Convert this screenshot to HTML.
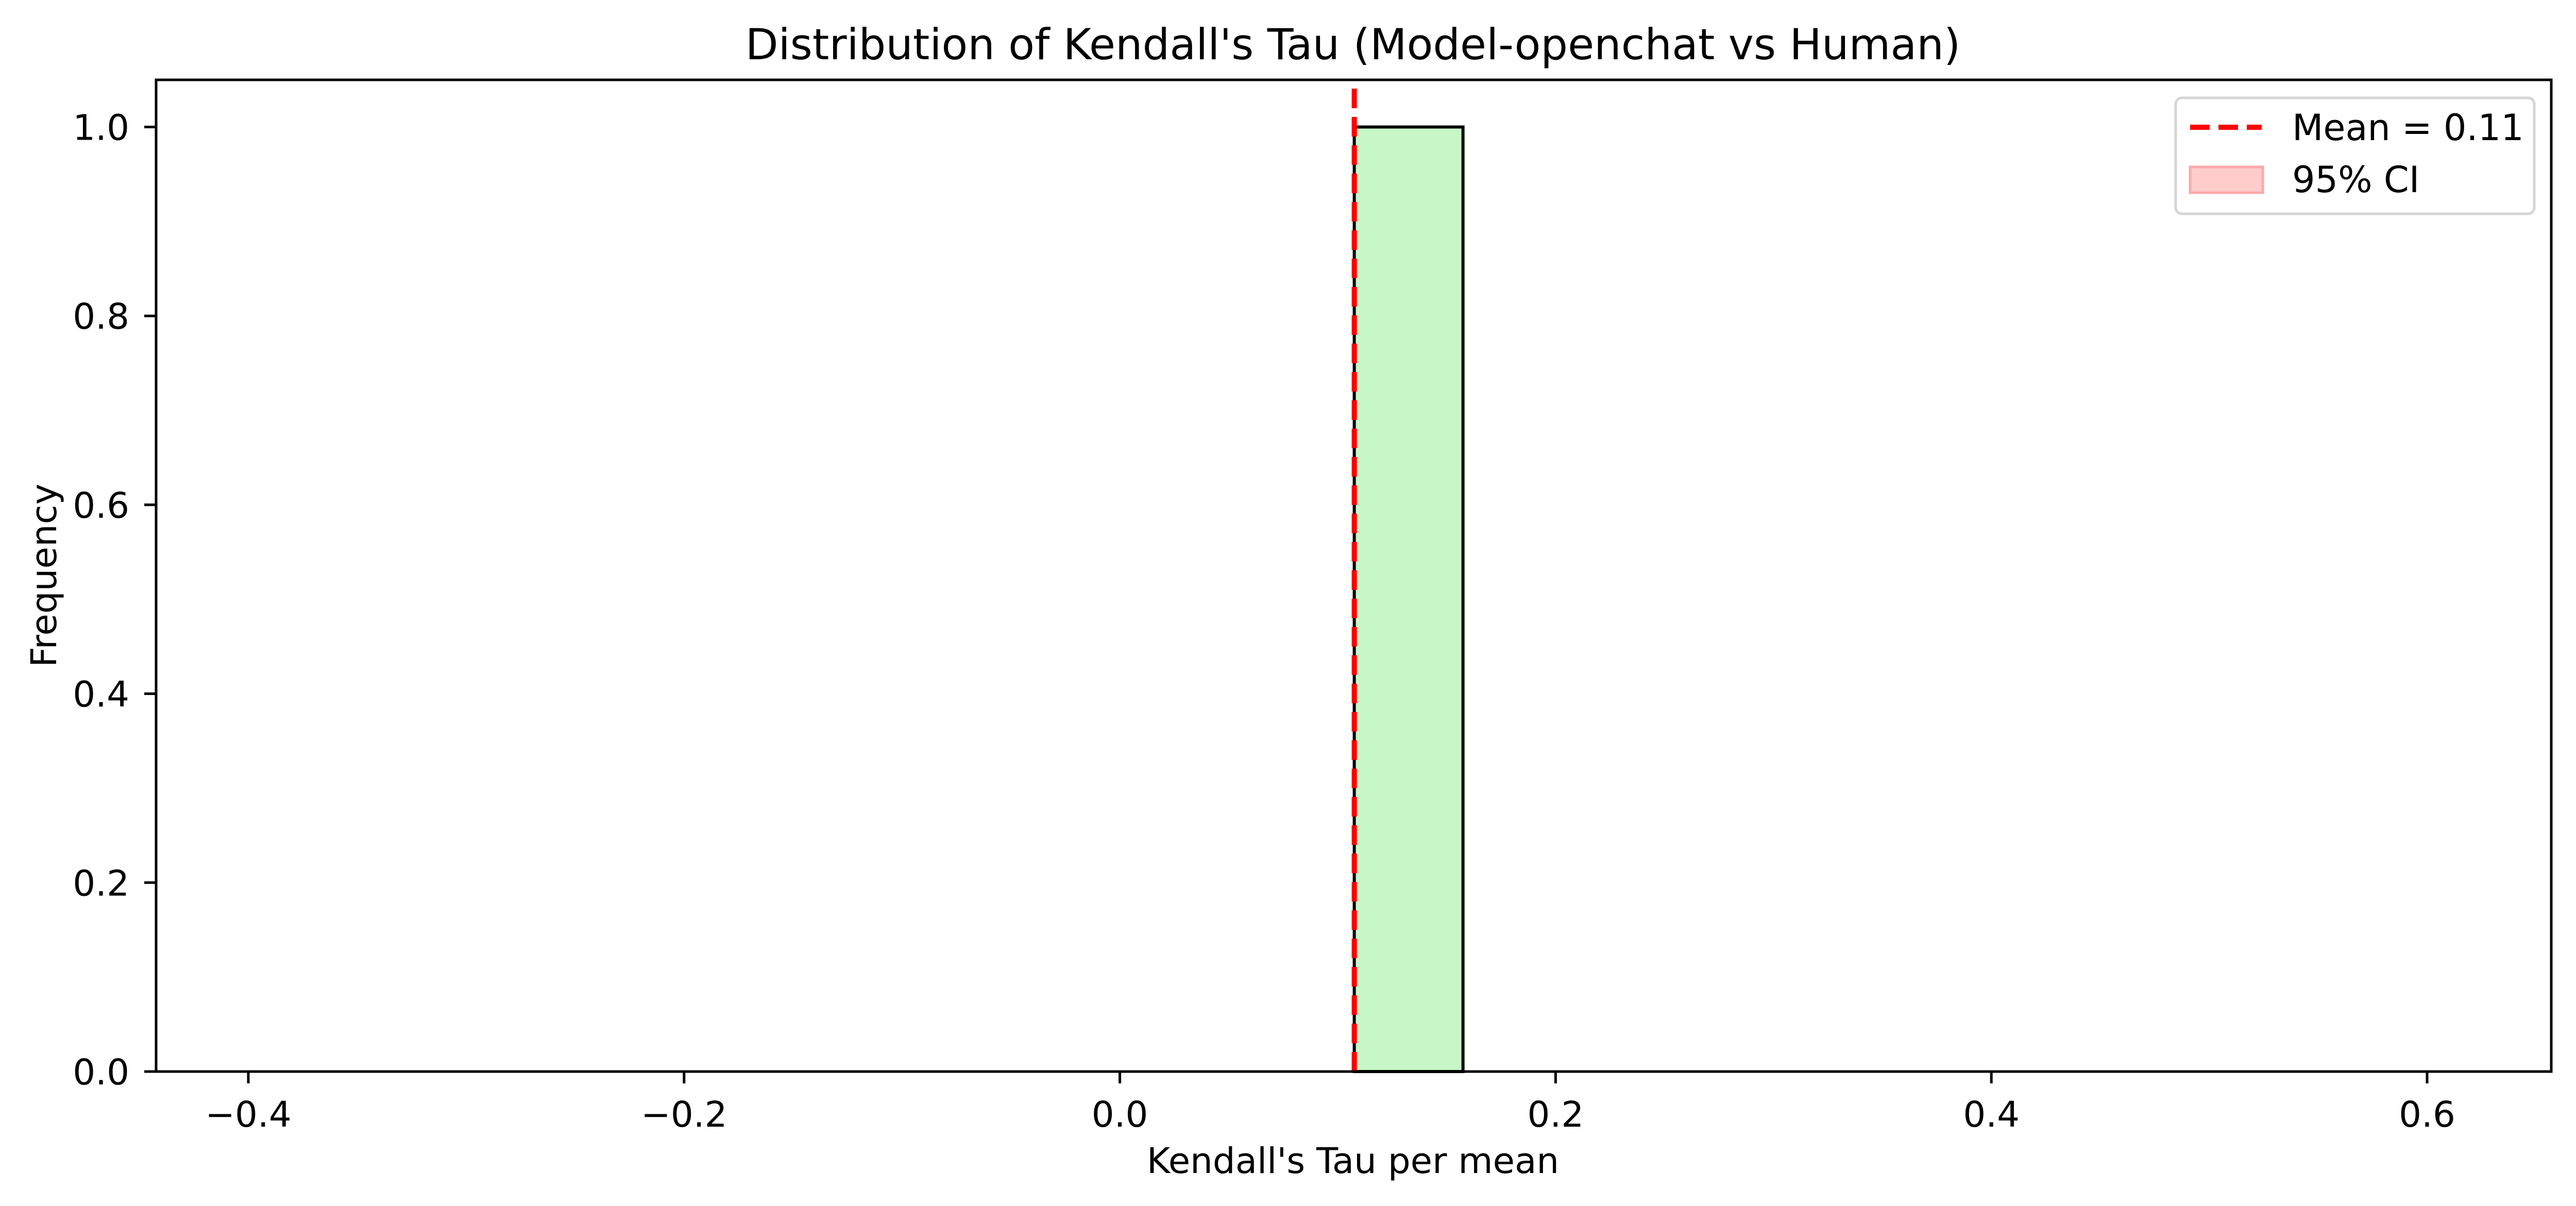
<!DOCTYPE html>
<html><head><meta charset="utf-8"><style>
html,body{margin:0;padding:0;background:#fff;}
svg{display:block;font-family:"DejaVu Sans","Liberation Sans",sans-serif;}
</style></head><body>
<svg id="chart" width="5003" height="2341" viewBox="0 0 5003 2341" xmlns="http://www.w3.org/2000/svg">
<rect width="5003" height="2341" fill="#fff"/>
<text x="2626" y="115" font-size="83" text-anchor="middle">Distribution of Kendall's Tau (Model-openchat vs Human)</text>
<g id="plot"></g>
<text x="2626" y="2277" font-size="69" text-anchor="middle">Kendall's Tau per mean</text>
<text transform="translate(86,1117) rotate(-90)" font-size="69" text-anchor="middle" dominant-baseline="central">Frequency</text>
<g>
<rect x="4223" y="190" width="696" height="225" rx="12" fill="#fff" fill-opacity="0.8" stroke="#d5d5d5" stroke-width="5"/>
<line x1="4251" y1="247" x2="4390" y2="247" stroke="#ff0000" stroke-width="10" stroke-dasharray="38 17"/>
<text x="4449" y="272" font-size="70">Mean = 0.11</text>
<rect x="4251" y="324" width="141" height="50" fill="#ffcccc" stroke="#ffa8a8" stroke-width="5"/>
<text x="4449" y="373" font-size="70">95% CI</text>
</g>
</svg>
<script>
const binStarts = [0.1076];
const binEnds = [0.1575];
const binCounts = [1];
const meanValue = [0.1076];
const xTicks = [-0.4, -0.2, 0.0, 0.2, 0.4, 0.6];
const xTickLabels = ["\u22120.4", "\u22120.2", "0.0", "0.2", "0.4", "0.6"];
const yTicks = [0, 0.2, 0.4, 0.6, 0.8, 1.0];
const yTickLabels = ["0.0", "0.2", "0.4", "0.6", "0.8", "1.0"];

const NS = "http://www.w3.org/2000/svg";
const L = 303, R = 4952, T = 155, B = 2080;
function xs(v){ return 482 + (v + 0.4) * 4229; }
function ys(v){ return B - v * 1833.5; }
const g = document.getElementById('plot');
function mk(tag, attrs){ const e = document.createElementNS(NS, tag); for (const k in attrs) e.setAttribute(k, attrs[k]); g.appendChild(e); return e; }

for (let i = 0; i < binCounts.length; i++) {
  const r = mk('rect', {x: xs(binStarts[i]), y: ys(binCounts[i]), width: xs(binEnds[i]) - xs(binStarts[i]), height: B - ys(binCounts[i]), fill: '#c7f7c7', stroke: '#000', 'stroke-width': 6});
  
  
}
for (let i = 0; i < meanValue.length; i++) {
  const ml = mk('line', {x1: xs(meanValue[i]), x2: xs(meanValue[i]), y1: B, y2: T, stroke: '#ff0000', 'stroke-width': 10, 'stroke-dasharray': '38 17'});
  
  
}
const frame = mk('rect', {x: L, y: T, width: R - L, height: B - T, fill: 'none', stroke: '#000', 'stroke-width': 5});



for (let i = 0; i < xTicks.length; i++) {
  const x = xs(xTicks[i]);
  const t = mk('line', {x1: x, x2: x, y1: B, y2: B + 23, stroke: '#000', 'stroke-width': 5});
  
  
  const lb = mk('text', {x: x, y: 2187, 'font-size': 69, 'text-anchor': 'middle'});
  lb.textContent = xTickLabels[i];
  
  
}
for (let i = 0; i < yTicks.length; i++) {
  const y = ys(yTicks[i]);
  const t = mk('line', {x1: L - 23, x2: L, y1: y, y2: y, stroke: '#000', 'stroke-width': 5});
  
  
  const lb = mk('text', {x: 251, y: y + 25, 'font-size': 69, 'text-anchor': 'end'});
  lb.textContent = yTickLabels[i];
  
  
}
</script>
</body></html>
